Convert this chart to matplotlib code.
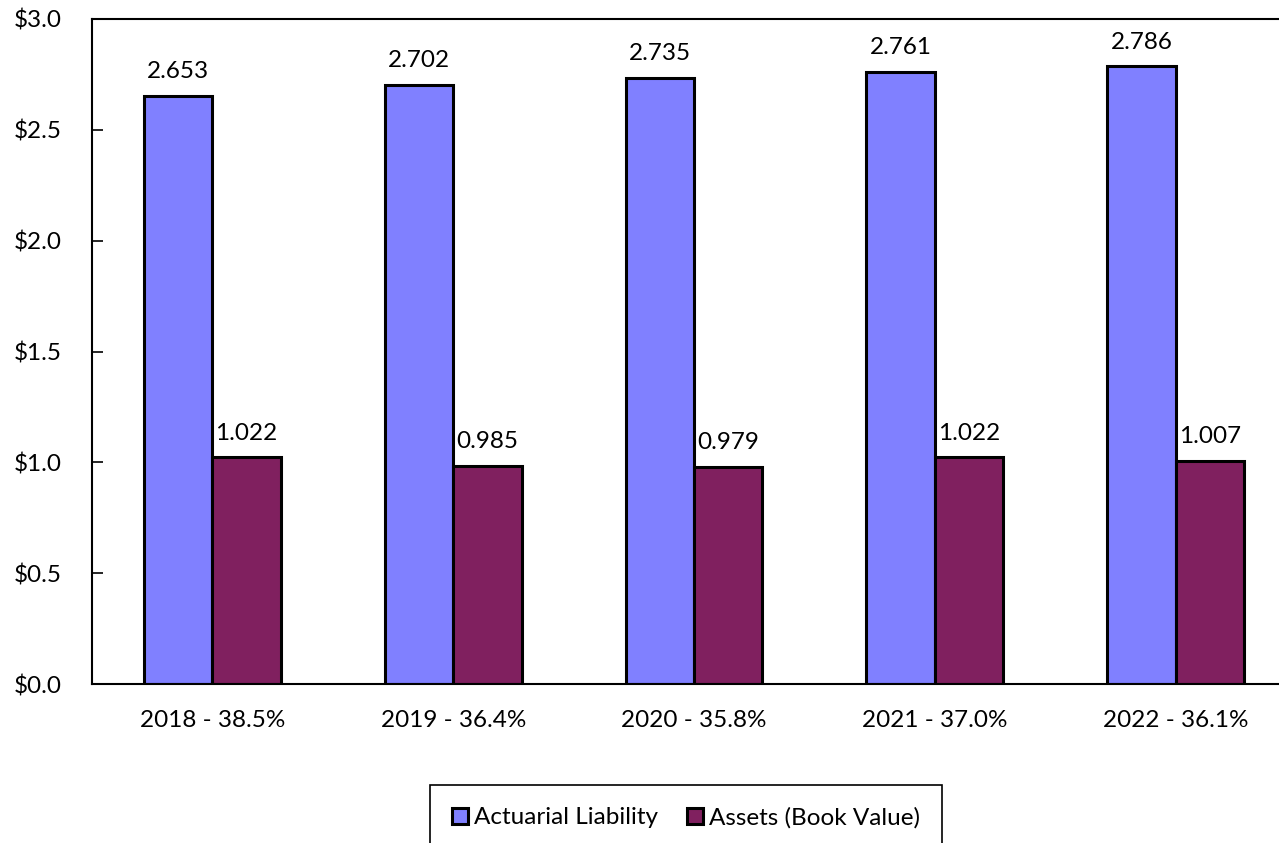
import matplotlib.pyplot as plt
import numpy as np

categories = ["2018 - 38.5%", "2019 - 36.4%", "2020 - 35.8%", "2021 - 37.0%", "2022 - 36.1%"]
liability = [2.653, 2.702, 2.735, 2.761, 2.786]
assets = [1.022, 0.985, 0.979, 1.022, 1.007]
yticks = [0.0, 0.5, 1.0, 1.5, 2.0, 2.5, 3.0]

plt.rcParams['font.family'] = ['Lato', 'DejaVu Sans']
plt.rcParams['font.size'] = 17.5

fig = plt.figure(figsize=(12.79, 8.43), dpi=100)
W, H = 1279, 843
ax = fig.add_axes([92 / W, 1 - 684 / H, (1296 - 92) / W, (684 - 19) / H])

x = np.arange(len(categories))
w = 0.284
b1 = ax.bar(x - w / 2, liability, w, color="#8080FF", edgecolor="black", linewidth=2.2,
            label="Actuarial Liability")
b2 = ax.bar(x + w / 2, assets, w, color="#80205F", edgecolor="black", linewidth=2.2,
            label="Assets (Book Value)")

for bars, vals in ((b1, liability), (b2, assets)):
  for r, v in zip(bars, vals):
    ax.annotate(f"{v:.3f}", (r.get_x() + r.get_width() / 2, v), xytext=(0, 10),
                textcoords="offset points", ha="center", va="bottom")

ax.set_xlim(-0.5, len(categories) - 0.5)
ax.set_ylim(0, 3.0)
ax.set_yticks(yticks)
ax.set_yticklabels([f"${t:.1f}" for t in yticks])
ax.set_xticks(x)
ax.set_xticklabels(categories)
ax.tick_params(axis="y", direction="in", length=8, width=1.2, pad=22)
ax.tick_params(axis="x", length=0, pad=19)
for s in ax.spines.values():
  s.set_linewidth(1.5)

leg = fig.legend(loc="upper center", bbox_to_anchor=(686 / W, 1 - 785 / H), ncol=2,
                 frameon=True, fancybox=False, edgecolor="black", framealpha=1,
                 handlelength=0.65, handleheight=0.65, handletextpad=0.25,
                 columnspacing=1.2, borderpad=0.9, borderaxespad=0)
leg.get_frame().set_linewidth(1.2)
for h in leg.legend_handles:
  h.set_linewidth(2.2)

fig.savefig("out.png", dpi=100)
